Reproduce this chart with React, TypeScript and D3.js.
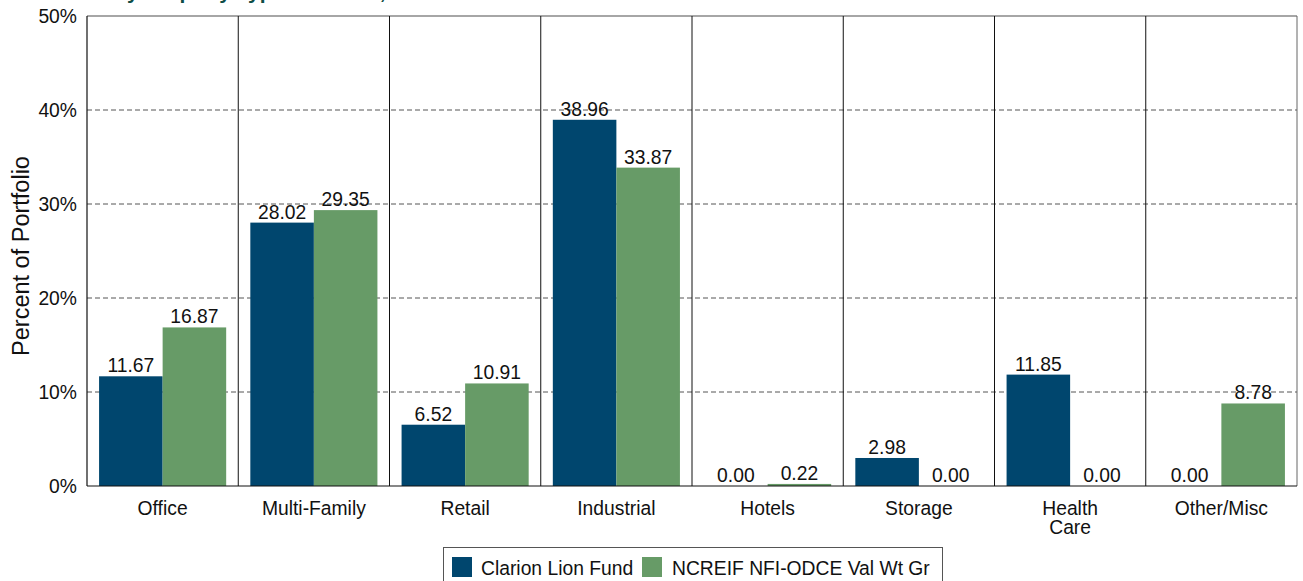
import React from "react";
import * as d3 from "d3";

const categories = ["Office", "Multi-Family", "Retail", "Industrial", "Hotels", "Storage", "Health Care", "Other/Misc"];
const seriesNames = ["Clarion Lion Fund", "NCREIF NFI-ODCE Val Wt Gr"];
const fundValues = [11.67, 28.02, 6.52, 38.96, 0.0, 2.98, 11.85, 0.0];
const benchValues = [16.87, 29.35, 10.91, 33.87, 0.22, 0.0, 0.0, 8.78];
const yTicks = [0, 10, 20, 30, 40, 50];
const colors = ["#00466E", "#679B67"];
const titleText = "Portfolio by Property Type vs. Index, 2023";

const W = 1303, H = 581;
const M = { left: 87, right: 1297, top: 16, bottom: 486 };
const FONT = "'Liberation Sans', Arial, Helvetica, sans-serif";
const FS = 19.3;

export default function App() {
  const x = d3.scaleBand<string>().domain(categories).range([M.left, M.right]).padding(0);
  const inner = d3.scaleBand<number>().domain([0, 1]).range([0, x.bandwidth()]).paddingInner(0).paddingOuter(0.19);
  const y = d3.scaleLinear().domain([0, 50]).range([M.bottom, M.top]);
  const series = [fundValues, benchValues];

  return (
    <svg width={W} height={H} style={{ position: "absolute", left: 0, top: 0 }} fontFamily={FONT}>
      <rect x={0} y={0} width={W} height={H} fill="#fff" />
      <text x={22} y={-1} fontSize={21} fontWeight="bold" fill="#0E4D45">{titleText}</text>
      {/* gridlines */}
      {yTicks.filter(t => t > 0 && t < 50).map(t => (
        <line key={t} x1={M.left} x2={M.right} y1={y(t)} y2={y(t)} stroke="#555" strokeWidth={1} strokeDasharray="5,3" />
      ))}
      {/* top and right border */}
      <line x1={M.left} x2={M.right} y1={y(50)} y2={y(50)} stroke="#888" strokeWidth={1.5} />
      <line x1={M.right} x2={M.right} y1={M.top} y2={M.bottom} stroke="#666" strokeWidth={1} />
      {/* category separators */}
      {categories.slice(1).map(c => (
        <line key={c} x1={x(c)!} x2={x(c)!} y1={M.top} y2={M.bottom} stroke="#111" strokeWidth={1} />
      ))}
      {/* bars */}
      {categories.map((c, i) => series.map((s, j) => (
        <rect key={c + j} x={x(c)! + inner(j)!} width={inner.bandwidth()} y={y(s[i])} height={M.bottom - y(s[i])} fill={colors[j]} />
      )))}
      {/* value labels */}
      {categories.map((c, i) => series.map((s, j) => (
        <text key={"l" + c + j} x={x(c)! + inner(j)! + inner.bandwidth() / 2} y={y(s[i]) - 4} textAnchor="middle" fontSize={FS} fill="#111">
          {s[i].toFixed(2)}
        </text>
      )))}
      {/* axes lines */}
      <line x1={M.left} x2={M.left} y1={M.top} y2={M.bottom} stroke="#111" strokeWidth={1.2} />
      <line x1={M.left} x2={M.right} y1={M.bottom} y2={M.bottom} stroke="#111" strokeWidth={1.2} />
      {/* y ticks */}
      {yTicks.map(t => (
        <text key={t} x={77} y={y(t) + 7} textAnchor="end" fontSize={FS} fill="#111">{t}%</text>
      ))}
      <text transform={`translate(29,${(M.top + M.bottom) / 2 + 5}) rotate(-90)`} textAnchor="middle" fontSize={23.5} fill="#111">Percent of Portfolio</text>
      {/* x labels */}
      {categories.map(c => {
        const parts = c.split(" ");
        return (
          <text key={c} x={x(c)! + x.bandwidth() / 2} y={515} textAnchor="middle" fontSize={FS} fill="#111">
            {parts.map((p, k) => <tspan key={k} x={x(c)! + x.bandwidth() / 2} dy={k === 0 ? 0 : 19}>{p}</tspan>)}
          </text>
        );
      })}
      {/* legend */}
      <rect x={443.5} y={547.5} width={499} height={40} fill="#fff" stroke="#555" strokeWidth={1} />
      <rect x={452} y={557} width={20} height={20} fill={colors[0]} />
      <text x={481} y={575} fontSize={FS} fill="#111">{seriesNames[0]}</text>
      <rect x={642} y={557} width={20} height={20} fill={colors[1]} />
      <text x={672} y={575} fontSize={FS} fill="#111">{seriesNames[1]}</text>
    </svg>
  );
}
